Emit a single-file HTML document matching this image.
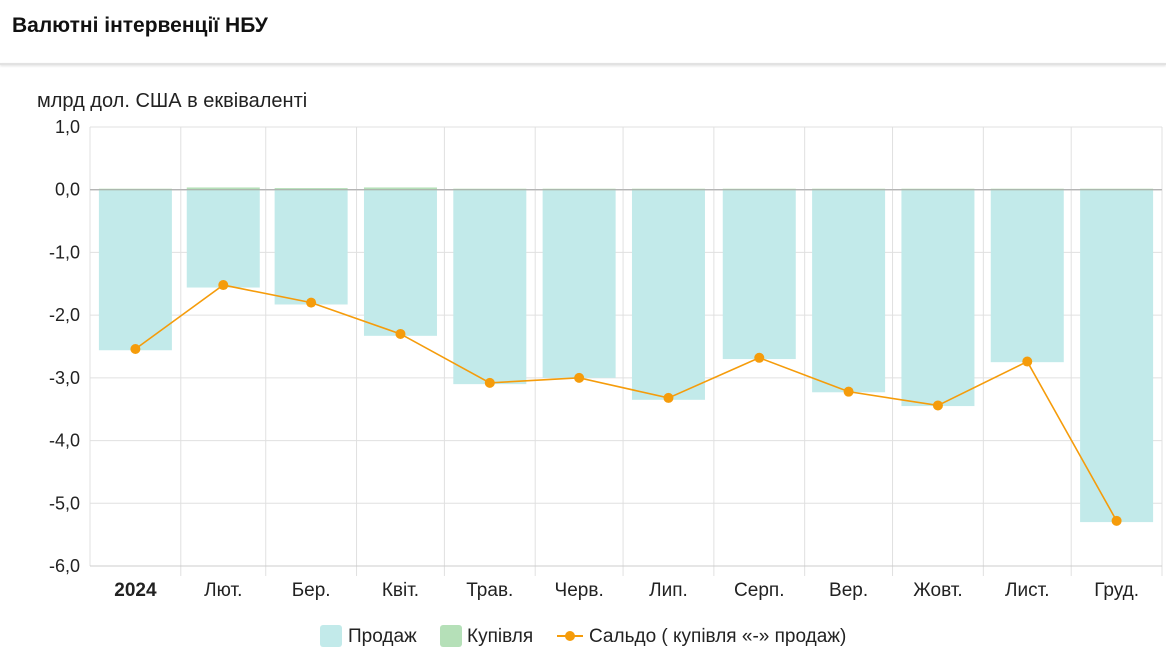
<!DOCTYPE html>
<html><head><meta charset="utf-8">
<style>
html,body{margin:0;padding:0;background:#fff;width:1166px;height:651px;overflow:hidden;font-family:"Liberation Sans",sans-serif;}
#title{position:absolute;left:12px;top:14px;font-size:21px;font-weight:bold;color:#111;}
#divider{position:absolute;left:0;top:63px;width:1166px;height:2px;background:#e2e2e2;box-shadow:0 1px 2px #ddd;}
svg{position:absolute;left:0;top:0;}
</style></head><body>
<div id="title">Валютні інтервенції НБУ</div>
<div id="divider"></div>
<svg id="chart" width="1166" height="651"></svg>
<script>
const categories=["2024","Лют.","Бер.","Квіт.","Трав.","Черв.","Лип.","Серп.","Вер.","Жовт.","Лист.","Груд."];
const monthDays=[31,29,31,30,31,30,31,31,30,31,30,31];
const sales=[-2.56,-1.56,-1.83,-2.33,-3.1,-3.0,-3.35,-2.7,-3.23,-3.45,-2.75,-5.3];
const purchases=[0.0,0.02,0.01,0.02,0.0,0.0,0.0,0.0,0.0,0.0,0.0,0.0];
const balance=[-2.54,-1.52,-1.8,-2.3,-3.08,-3.0,-3.32,-2.68,-3.22,-3.44,-2.74,-5.28];
const yTicks=[1,0,-1,-2,-3,-4,-5,-6];
const yTickLabels=["1,0","0,0","-1,0","-2,0","-3,0","-4,0","-5,0","-6,0"];

const NS="http://www.w3.org/2000/svg";
const svg=document.getElementById('chart');
const X0=90,X1=1162,Y0=127,Y1=566,YMAX=1,YMIN=-6;
const totalDays=monthDays.reduce((a,b)=>a+b,0);
function y(v){return Y0+(YMAX-v)/(YMAX-YMIN)*(Y1-Y0);}
function xDay(d){return X0+d/totalDays*(X1-X0);}
const starts=[];let acc=0;monthDays.forEach(d=>{starts.push(acc);acc+=d;});
function xCenter(i){return xDay(starts[i]+monthDays[i]/2);}
function mk(tag,attrs){const e=document.createElementNS(NS,tag);for(const k in attrs)e.setAttribute(k,attrs[k]);svg.appendChild(e);return e;}

let t=mk('text',{x:37,y:107,'font-size':20,fill:'#222'});t.textContent="млрд дол. США в еквіваленті";



yTicks.forEach((v,i)=>{
  const g=mk('line',{x1:X0,x2:X1,y1:y(v),y2:y(v),stroke:v===0?'#aaa':'#e0e0e0','stroke-width':1});
  
  
  const l=mk('text',{x:80,y:y(v)+6,'font-size':18,fill:'#222','text-anchor':'end'});
  l.textContent=yTickLabels[i];
  
  
});
for(let i=0;i<=monthDays.length;i++){
  const xx=i<monthDays.length?xDay(starts[i]):X1;
  const g=mk('line',{x1:xx,x2:xx,y1:Y0,y2:Y1+(i===0?0:10),stroke:'#e0e0e0','stroke-width':1});
  
  
}
mk('line',{x1:X0,x2:X1,y1:Y1,y2:Y1,stroke:'#ccc'});

const barW=73;
categories.forEach((c,i)=>{
  const cx=xCenter(i);
  const b=mk('rect',{x:cx-barW/2,y:y(0),width:barW,height:y(sales[i])-y(0),fill:'#c2eaea'});
  
  
  const p=mk('rect',{x:cx-barW/2,y:y(purchases[i])-1,width:barW,height:y(0)-y(purchases[i])+1.5,fill:'#b5e0b8'});
  
  
  const l=mk('text',{x:cx,y:596,'font-size':19,fill:'#222','text-anchor':'middle','font-weight':i===0?'bold':'normal'});
  l.textContent=c;
  
  
});
mk('line',{x1:X0,x2:X1,y1:y(0),y2:y(0),stroke:'#aaa','stroke-width':1});

const pts=balance.map((v,i)=>xCenter(i)+','+y(v)).join(' ');
const pl=mk('polyline',{points:pts,fill:'none',stroke:'#f59c0b','stroke-width':1.6});


balance.forEach((v,i)=>{
  const c=mk('circle',{cx:xCenter(i),cy:y(v),r:5,fill:'#f59c0b'});
  
  
});

function legendText(x,s,n){const e=mk('text',{x:x,y:642,'font-size':19,fill:'#222'});e.textContent=s;}
let r=mk('rect',{x:320,y:625,width:22,height:22,rx:3,fill:'#c2eaea'});


legendText(348,"Продаж",'legend-sales');
r=mk('rect',{x:440,y:625,width:22,height:22,rx:3,fill:'#b5e0b8'});


legendText(467,"Купівля",'legend-purchases');
mk('line',{x1:557,x2:583,y1:636,y2:636,stroke:'#f59c0b','stroke-width':2});
mk('circle',{cx:570,cy:636,r:5,fill:'#f59c0b'});
legendText(589,"Сальдо ( купівля «-» продаж)",'legend-balance');
</script>
</body></html>
